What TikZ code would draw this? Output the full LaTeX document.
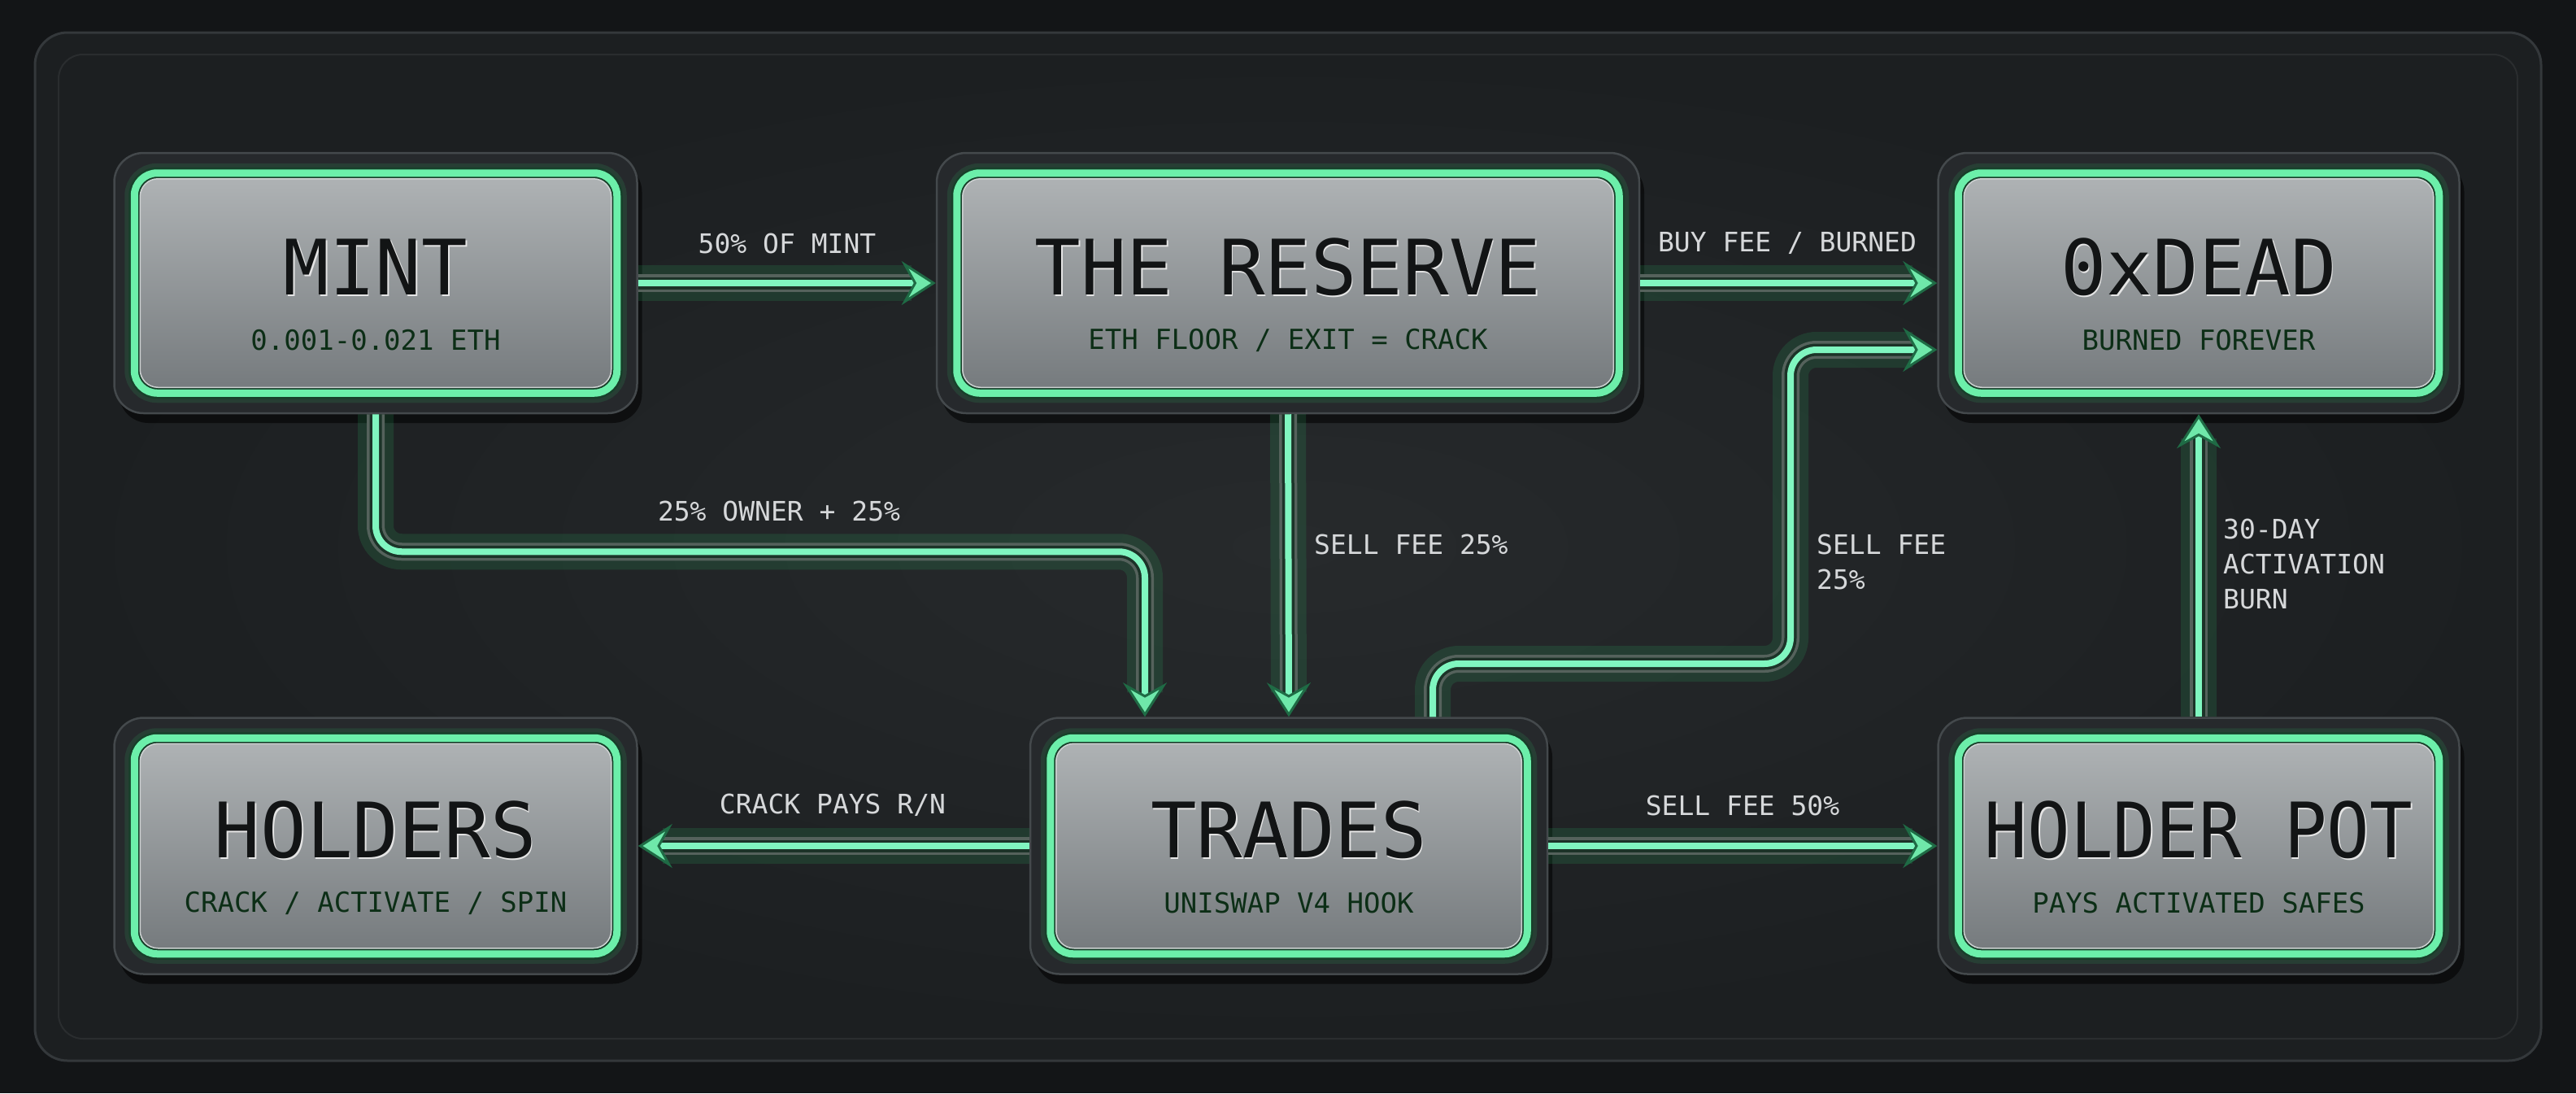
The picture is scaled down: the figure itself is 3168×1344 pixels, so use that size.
\documentclass[tikz,border=0pt]{standalone}
\usepackage{fontspec}
\newfontfamily\mono{DejaVu Sans Mono}
\usetikzlibrary{arrows.meta,shadows}
\definecolor{bgout}{HTML}{131517}
\definecolor{frameedge}{HTML}{34383b}
\definecolor{panelin}{HTML}{272a2c}
\definecolor{panelout}{HTML}{1c1f21}
\definecolor{shellc}{HTML}{26292c}
\definecolor{shelledge}{HTML}{44494c}
\definecolor{ringc}{HTML}{6cefaa}
\definecolor{ringedge}{HTML}{17402a}
\definecolor{glowc}{HTML}{2ecc71}
\definecolor{platetop}{HTML}{aeb2b4}
\definecolor{platebot}{HTML}{767b7e}
\definecolor{titlec}{HTML}{121415}
\definecolor{subc}{HTML}{0c2e16}
\definecolor{lblc}{HTML}{d6d8da}
\definecolor{corec}{HTML}{80f6c0}
\definecolor{tubec}{HTML}{55625c}
\definecolor{tubein}{HTML}{1c3328}
\definecolor{headfill}{HTML}{6fe8aa}
\definecolor{headedge}{HTML}{1f6b45}
\tikzset{
  shell/.style={draw=shelledge, line width=2.5pt, fill=shellc, rounded corners=36pt,
    drop shadow={shadow xshift=6pt, shadow yshift=-12pt, opacity=0.55, fill=black}},
  ringglow/.style={draw=glowc, line width=24pt, opacity=0.13, rounded corners=28pt},
  ringedge/.style={draw=ringedge, line width=14pt, rounded corners=28pt},
  ringline/.style={draw=ringc, line width=9pt, rounded corners=28pt},
  plate/.style={top color=platetop, bottom color=platebot, draw=platetop!60!white, line width=1.5pt, rounded corners=22pt},
  titlesty/.style={text=titlec, font=\mono\fontsize{94}{94}\selectfont, inner sep=0pt},
  titlehi/.style={text=white!80!gray, font=\mono\fontsize{94}{94}\selectfont, inner sep=0pt},
  substy/.style={text=subc, font=\mono\fontsize{34}{34}\selectfont, inner sep=0pt},
  lbl/.style={text=lblc, font=\mono\fontsize{33}{43}\selectfont, inner sep=0pt, align=left},
  cglow/.style={draw=glowc, line width=44pt, opacity=0.14, rounded corners=32pt},
  ctube/.style={draw=tubec, line width=22pt, rounded corners=32pt},
  ctubein/.style={draw=tubein, line width=15pt, rounded corners=32pt},
  ccore/.style={draw=corec, line width=8pt, rounded corners=32pt,
    -{Stealth[length=42pt,width=54pt,inset=15pt,fill=headfill,color=headedge,line width=3pt]}},
  capsty/.style={draw=none, fill=tubec!80!black, minimum width=26pt, minimum height=10pt, inner sep=0pt},
}
\newcommand\plate[7]{%
  \node[shell, minimum width=#4pt, minimum height=#5pt] (#1) at (#2,#3) {};
  \draw[ringglow] ([shift={(26pt,-26pt)}]#1.north west) rectangle ([shift={(-26pt,26pt)}]#1.south east);
  \draw[ringedge] ([shift={(26pt,-26pt)}]#1.north west) rectangle ([shift={(-26pt,26pt)}]#1.south east);
  \draw[ringline] ([shift={(26pt,-26pt)}]#1.north west) rectangle ([shift={(-26pt,26pt)}]#1.south east);
  \fill[plate] ([shift={(33pt,-33pt)}]#1.north west) rectangle ([shift={(-33pt,33pt)}]#1.south east);
  \node[titlehi] (#1-th) at ([shift={(1.5pt,18pt)}]#1.center) {#6};
  \node[titlesty] (#1-t) at ([yshift=20pt]#1.center) {#6};
  \node[substy] (#1-s) at ([yshift=-70pt]#1.center) {#7};
}
\newcommand\conn[1]{%
  \draw[cglow, shorten >=30pt] #1;
  \draw[ctube, shorten >=30pt] #1;
  \draw[ctubein, shorten >=30pt] #1;
  \draw[ccore] #1;
}
\begin{document}
\begin{tikzpicture}[x=1pt,y=-1pt]
\useasboundingbox (0,0) rectangle (3168,1344);
\fill[bgout] (0,0) rectangle (3168,1344);
\draw[draw=frameedge, line width=3pt, fill=panelout, rounded corners=40pt] (43,40) rectangle (3125,1304);
\shade[inner color=panelin, outer color=panelout, draw=frameedge!80!black, line width=2pt, rounded corners=30pt] (72,67) rectangle (3096,1277);

\plate{mint}{462}{348}{643}{320}{MINT}{0.001-0.021 ETH}
\plate{reserve}{1584}{348}{864}{320}{THE RESERVE}{ETH FLOOR / EXIT = CRACK}
\plate{dead}{2704}{348}{641}{320}{0xDEAD}{BURNED FOREVER}
\plate{holders}{462}{1040}{643}{315}{HOLDERS}{CRACK / ACTIVATE / SPIN}
\plate{trades}{1585}{1040}{636}{315}{TRADES}{UNISWAP V4 HOOK}
\plate{pot}{2704}{1040}{641}{315}{\scalebox{0.93}[1]{HOLDER POT}}{PAYS ACTIVATED SAFES}

\coordinate (bendA) at (2202,816);

\conn{(mint.east) -- (reserve.west)}
\conn{(reserve.east) -- (dead.west)}
\conn{(mint.south) -- ++(0,169) -| ([xshift=-177pt]trades.north)}
\conn{(reserve.south) -- (trades.north)}
\conn{([xshift=177pt]trades.north) |- (bendA) |- ([yshift=-82pt]dead.west)}
\conn{(trades.west) -- (holders.east)}
\conn{(trades.east) -- (pot.west)}
\conn{(pot.north) -- (dead.south)}

\node[lbl] (l1) at (968,299) {50\% OF MINT};
\node[lbl] (l2) at (2198,299) {BUY FEE / BURNED};
\node[lbl] (l3) at (958,628) {25\% OWNER + 25\%};
\node[lbl, anchor=west] (l4) at (1616,669) {SELL FEE 25\%};
\node[lbl, anchor=west] (l5) at (2234,691) {SELL FEE\\25\%};
\node[lbl] (l6) at (1024,990) {CRACK PAYS R/N};
\node[lbl] (l7) at (2143,990) {SELL FEE 50\%};
\node[lbl, anchor=west] (l8) at (2734,693) {30-DAY\\ACTIVATION\\BURN};
\end{tikzpicture}
\end{document}
